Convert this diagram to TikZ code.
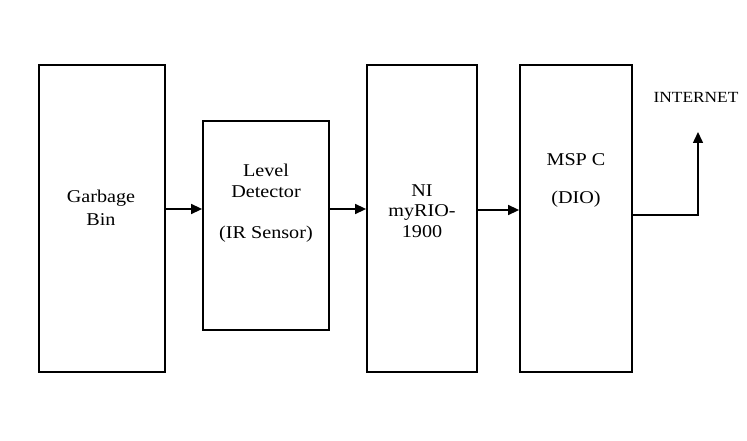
\documentclass[tikz,border=0pt]{standalone}
\usepackage{fontspec}
\setmainfont{Liberation Serif}[FakeStretch=1.12]
\usetikzlibrary{arrows.meta}

\begin{document}
\begin{tikzpicture}[x=1pt,y=-1pt,
  blk/.style={draw,line width=1.8pt,inner sep=0pt},
  txt/.style={align=center,inner sep=0pt,font=\fontsize{18}{20.5}\selectfont},
  arr/.style={line width=1.5pt,-{Triangle[length=11pt,width=10pt]}}]
\useasboundingbox (0,0) rectangle (747,441);

% the four blocks
\node[blk,minimum width=126pt,minimum height=307pt] (bin) at (102,218.5) {};
\node[blk,minimum width=126pt,minimum height=209pt] (lvl) at (266,225.5) {};
\node[blk,minimum width=110pt,minimum height=307pt] (rio) at (422,218.5) {};
\node[blk,minimum width=112pt,minimum height=307pt] (msp) at (576,218.5) {};

\node[txt] (bintxt) at (101,208) {Garbage\\[2.5pt]Bin};
\node[txt] (lvltxt) at (266,203) {Level\\Detector\\[20.5pt](IR Sensor)};
\node[txt] (riotxt) at (422,211) {NI\\myRIO-\\1900};
\node[txt] (msptxt) at (576,180) {MSP C\\[17.5pt](DIO)};
\node[font=\fontsize{15.5}{18}\selectfont,inner sep=0pt] (net) at (696,97) {INTERNET};

\coordinate (lvlA) at (0,209);
\coordinate (lvlB) at (0,210);
\coordinate (bend) at (698,215);
\coordinate (up) at (698,132);

\draw[arr] (bin.east |- lvlA) -- (lvl.west |- lvlA);
\draw[arr] (lvl.east |- lvlA) -- (rio.west |- lvlA);
\draw[arr] (rio.east |- lvlB) -- (msp.west |- lvlB);
\draw[arr] (msp.east |- bend) -- (bend) -- (up);

\end{tikzpicture}
\end{document}
